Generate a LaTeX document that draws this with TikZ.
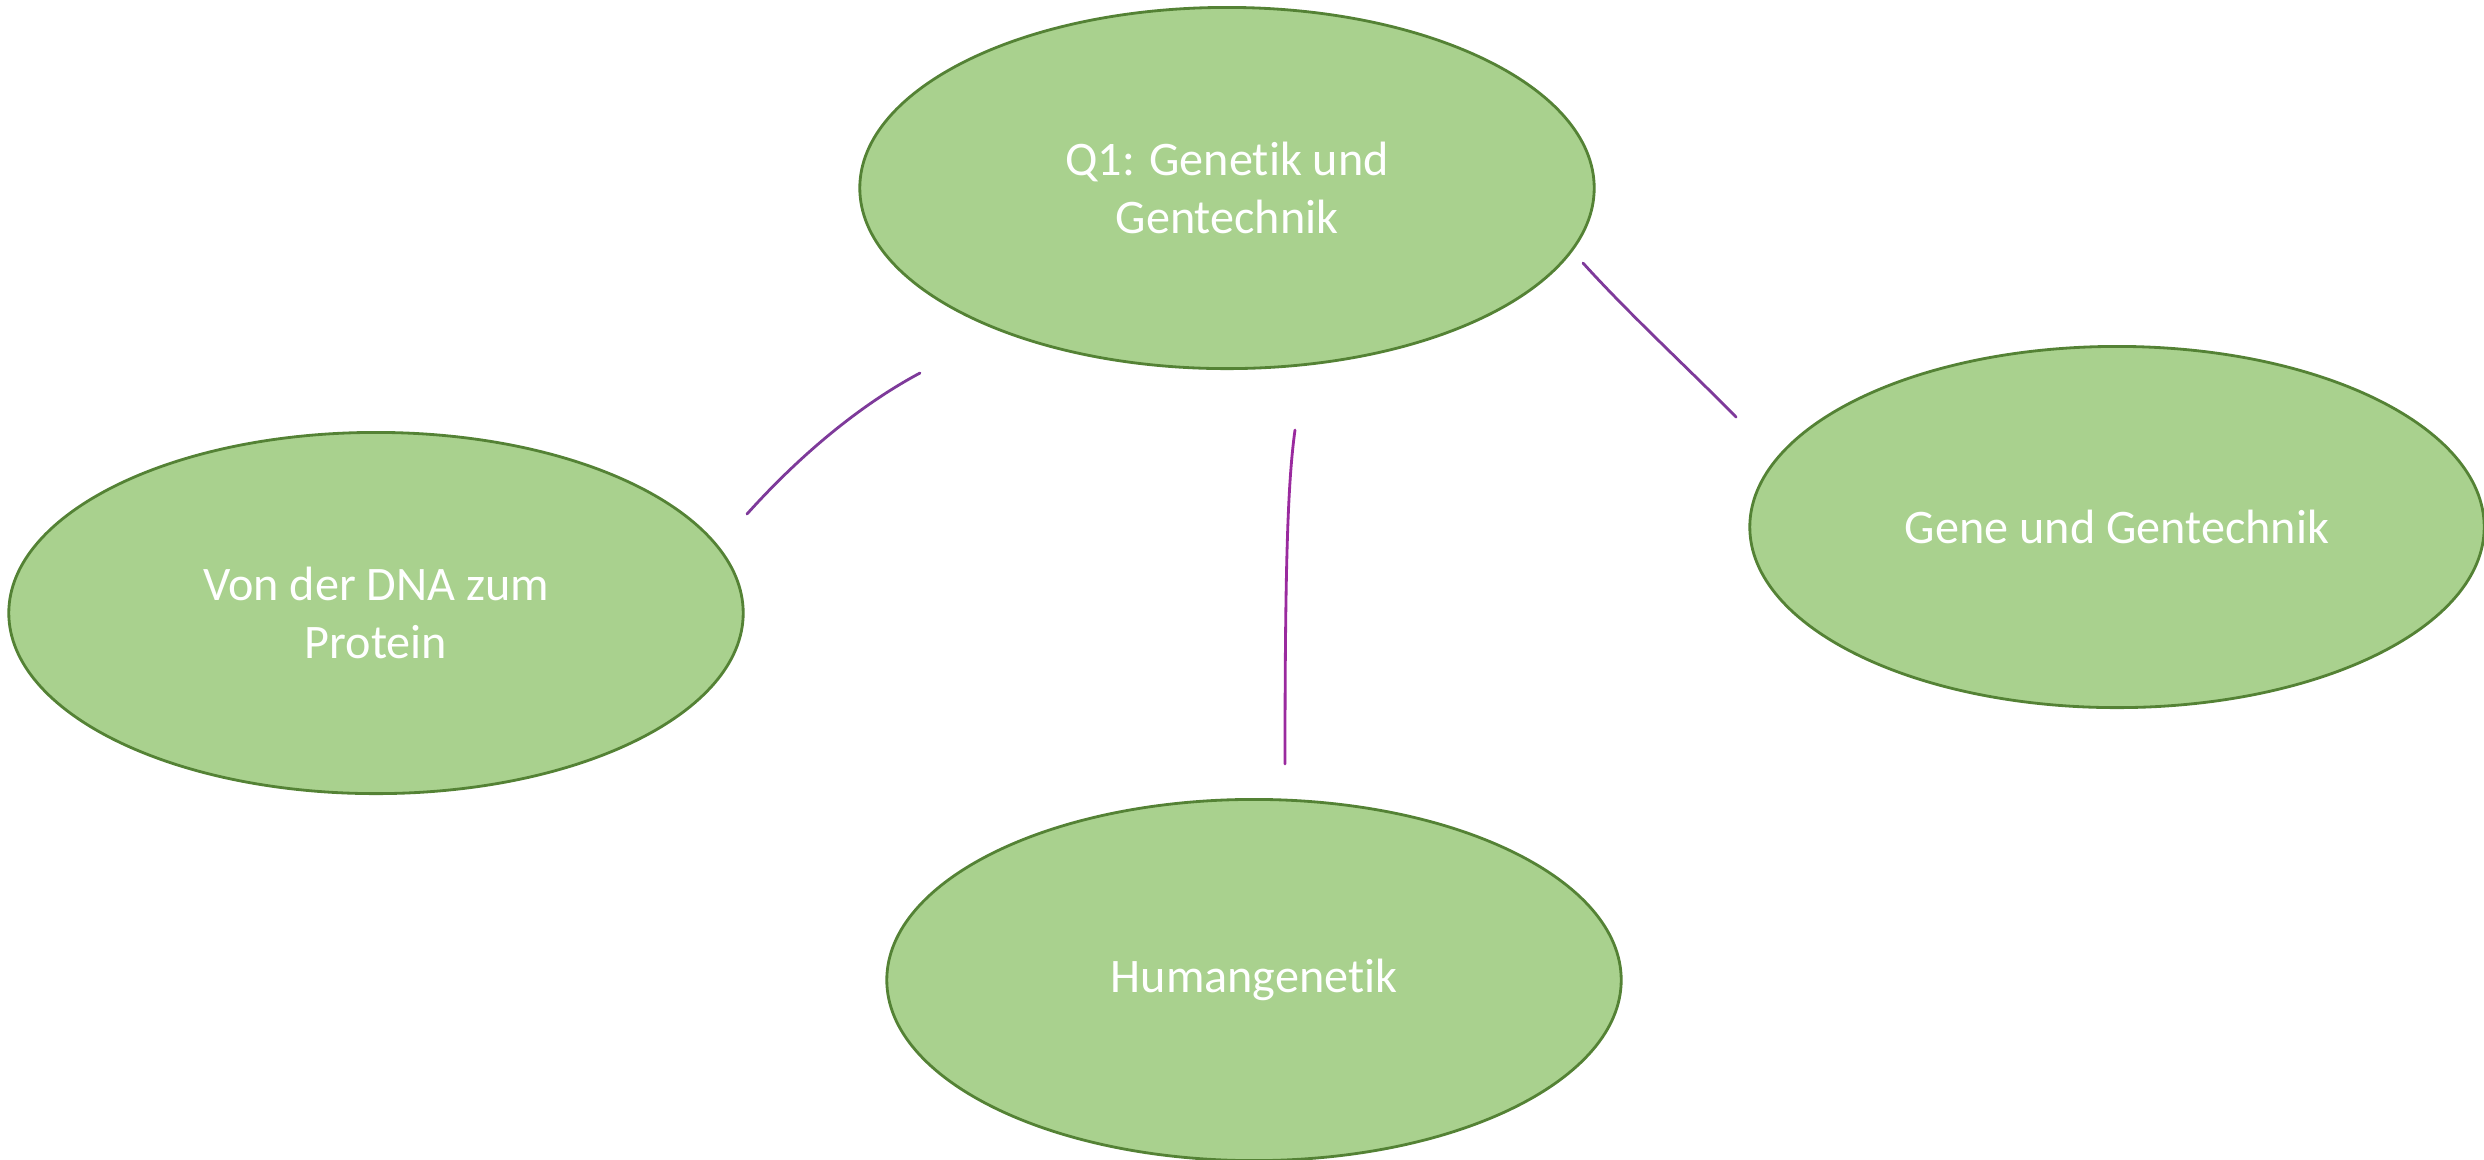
\documentclass[tikz,border=0pt]{standalone}
\usepackage{fontspec}
\setmainfont{Carlito}[Ligatures={NoCommon}]
\usetikzlibrary{shapes.geometric}

\definecolor{leafgreen}{HTML}{A9D18E}
\definecolor{leafdark}{HTML}{548235}
\definecolor{linkpurple}{HTML}{7E3A9A}
\definecolor{linkteal}{HTML}{3F86A6}
\definecolor{linkmagenta}{HTML}{9A2A9E}

\tikzset{
	topic/.style={ellipse, draw=leafdark, fill=leafgreen, line width=0.8pt,
		minimum width=7.34cm, minimum height=3.61cm, inner sep=0pt,
		text=white, align=center, font=\fontsize{13.7}{16.6}\selectfont},
	link/.style={line width=0.8pt, line cap=round}
}

\begin{document}
\begin{tikzpicture}[x=0.01cm, y=-0.01cm]
	\useasboundingbox (0,0) rectangle (2484,1159);
	
	\node[topic] (main) at (1227,188) {Q1: Genetik und\\Gentechnik};
	\node[topic] (dna) at (376,613) {Von der DNA zum\\Protein};
	\node[topic] (gene) at (2117,527) {Gene und Gentechnik};
	\node[topic] (human) at (1254,980) {Humangenetik};
	
	% loose ends of the links, they do not touch the ellipses
	\coordinate (dnaTop) at (920,373);
	\coordinate (dnaEnd) at (747,514);
	\coordinate (humanTop) at (1295,430);
	\coordinate (humanEnd) at (1285,764);
	\coordinate (geneTop) at (1583,263);
	\coordinate (geneEnd) at (1736,417);
	
	\draw[link, linkpurple] (dnaEnd) .. controls (800,455) and (860,405) .. (dnaTop);
	\draw[link, linkmagenta] (humanTop) .. controls (1288,480) and (1285,560) .. (humanEnd);
	\draw[link, linkpurple] (geneTop) .. controls (1630,315) and (1690,370) .. (geneEnd);
\end{tikzpicture}
\end{document}
